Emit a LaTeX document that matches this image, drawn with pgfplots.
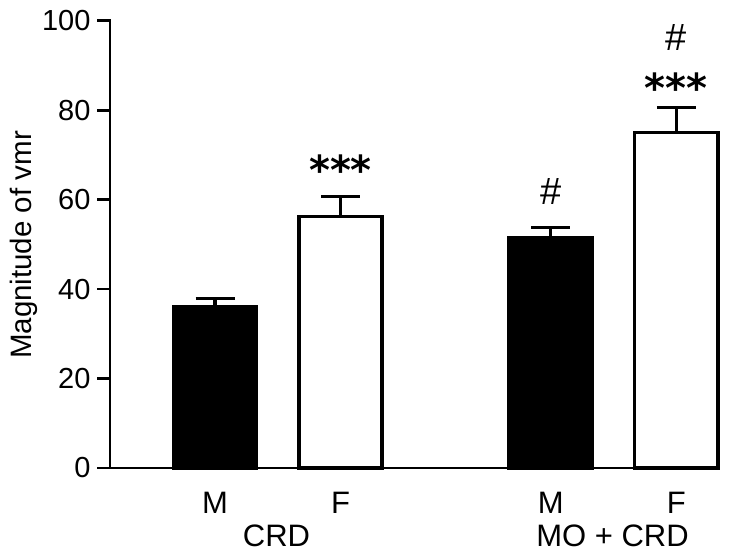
\documentclass[border=0pt]{standalone}
\usepackage{fontspec}
\setmainfont{Liberation Sans}
\newfontfamily\dejavu{DejaVu Sans}
\usepackage{pgfplots}
\pgfplotsset{compat=1.18}
\begin{document}
\begin{tikzpicture}[x=1pt,y=1pt]
\useasboundingbox (0,0) rectangle (729,553);
\begin{axis}[
  at={(110pt,85pt)}, anchor=south west,
  scale only axis, width=609pt, height=447.3pt,
  xmin=110, xmax=719, ymin=0, ymax=100,
  axis x line=bottom, axis y line=left,
  axis line style={-, line width=2.7pt, line cap=rect},
  ytick={0,20,...,100}, xtick=\empty,
  tick style={line width=2.7pt, black}, major tick length=12.7pt, tick align=outside,
  /pgf/number format/assume math mode=true,
  yticklabel style={font=\fontsize{29}{29}\selectfont, inner sep=0pt, xshift=-6.6pt},
  ylabel={Magnitude of vmr},
  ylabel style={font=\fontsize{29.5}{30}\selectfont, at={(axis description cs:-0.141,0.4985)}, anchor=center},
  clip=false,
  ybar, bar width=83.2, bar shift=0pt,
]
\addplot[fill=black, draw=black, line width=3.3pt,
  error bars/.cd, y dir=plus, y explicit, error mark=|,
  error bar style={line width=3.3pt, black},
  error mark options={line width=3.3pt, black, mark size=19.5pt}]
  coordinates {(215,36.1) +- (0,1.8) (550.7,51.5) +- (0,2.2)};
\addplot[fill=white, draw=black, line width=3.3pt,
  error bars/.cd, y dir=plus, y explicit, error mark=|,
  error bar style={line width=3.3pt, black},
  error mark options={line width=3.3pt, black, mark size=19.5pt}]
  coordinates {(340.5,56.2) +- (0,4.45) (676.3,75.0) +- (0,5.55)};
% significance marks
\node[anchor=base, font=\dejavu\bfseries\fontsize{40}{40}\selectfont, inner sep=0pt] at (axis cs:340.5,63.3) {***};
\node[anchor=base, font=\dejavu\bfseries\fontsize{40}{40}\selectfont, inner sep=0pt] at (axis cs:676.3,81.6) {***};
\node[anchor=base, font=\fontsize{38}{38}\selectfont, inner sep=0pt] at (axis cs:550.7,59.0) {\#};
\node[anchor=base, font=\fontsize{38}{38}\selectfont, inner sep=0pt] at (axis cs:676.3,93.3) {\#};
% category labels
\node[anchor=base, font=\fontsize{31}{31}\selectfont, inner sep=0pt] at (axis cs:215,-10.2) {M};
\node[anchor=base, font=\fontsize{31}{31}\selectfont, inner sep=0pt] at (axis cs:340.5,-10.2) {F};
\node[anchor=base, font=\fontsize{31}{31}\selectfont, inner sep=0pt] at (axis cs:550.7,-10.2) {M};
\node[anchor=base, font=\fontsize{31}{31}\selectfont, inner sep=0pt] at (axis cs:676.3,-10.2) {F};
\node[anchor=base, font=\fontsize{31}{31}\selectfont, inner sep=0pt] at (axis cs:276.5,-17.6) {CRD};
\node[anchor=base, font=\fontsize{31}{31}\selectfont, inner sep=0pt] at (axis cs:612.5,-17.6) {MO + CRD};
\end{axis}
\end{tikzpicture}
\end{document}
